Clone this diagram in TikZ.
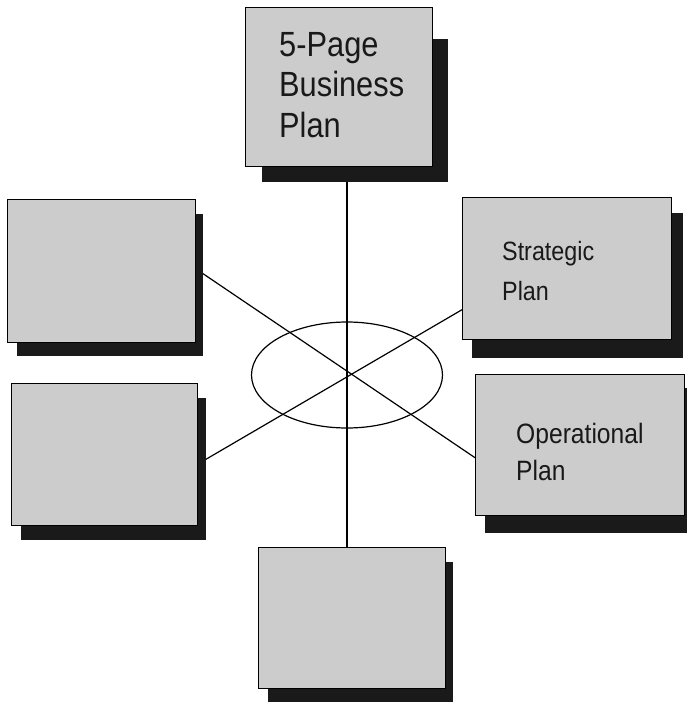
\documentclass[tikz,border=0pt]{standalone}
\usepackage{fontspec}
\newfontfamily\narrowsf[FakeStretch=0.88]{Liberation Sans}
\usetikzlibrary{shapes.geometric,backgrounds}
\definecolor{boxgray}{HTML}{CCCCCC}
\definecolor{shade}{HTML}{1A1A1A}
\begin{document}
\begin{tikzpicture}[x=1pt,y=-1pt,
  box/.style={draw=black, line width=1.4pt, fill=boxgray, rectangle, inner sep=0pt, anchor=north west},
  conn/.style={draw=black, line width=1.2pt},
  shadowbox/.style={fill=shade},
  lbl/.style={anchor=north west, inner sep=0pt, align=left, text=black!90}]
\useasboundingbox (0,0) rectangle (687,702);
% boxes
\node[box, minimum width=187pt, minimum height=159pt] (top) at (245,7) {};
\node[box, minimum width=188pt, minimum height=143pt] (lt) at (7,199) {};
\node[box, minimum width=186pt, minimum height=142pt] (lb) at (11,383) {};
\node[box, minimum width=209pt, minimum height=142pt] (st) at (462,197) {};
\node[box, minimum width=209pt, minimum height=141pt] (op) at (475,374) {};
\node[box, minimum width=187pt, minimum height=141pt] (bt) at (258,547) {};
% hub
\node[draw=black, line width=1.2pt, ellipse, minimum width=191pt, minimum height=106pt, inner sep=0pt] (hub) at (347,375) {};
% labels
\node[lbl, font=\narrowsf\fontsize{35}{40.5}\selectfont] (toptxt) at (279,32) {5-Page\\Business\\Plan};
\node[lbl, font=\narrowsf\fontsize{26.5}{40}\selectfont] (sttxt) at (502,241) {Strategic\\Plan};
\node[lbl, font=\narrowsf\fontsize{28}{37}\selectfont] (optxt) at (516,423) {Operational\\Plan};
\begin{pgfonlayer}{background}
  % connectors
  \draw[conn] (hub.center |- top.south) -- (hub.center |- bt.north);
  \draw[conn] ([shift={(0,-2)}]lt.east) -- ([shift={(0,12.5)}]op.west);
  \draw[conn] ([shift={(0,9)}]lb.east) -- ([shift={(0,41)}]st.west);
  % shadows
  \fill[shadowbox] (262,39) rectangle (448,182);
  \fill[shadowbox] (17,214) rectangle (203,356);
  \fill[shadowbox] (21,398) rectangle (206,540);
  \fill[shadowbox] (472,213) rectangle (683,358);
  \fill[shadowbox] (485,388) rectangle (690,533);
  \fill[shadowbox] (268,562) rectangle (453,710);
\end{pgfonlayer}
\end{tikzpicture}
\end{document}
